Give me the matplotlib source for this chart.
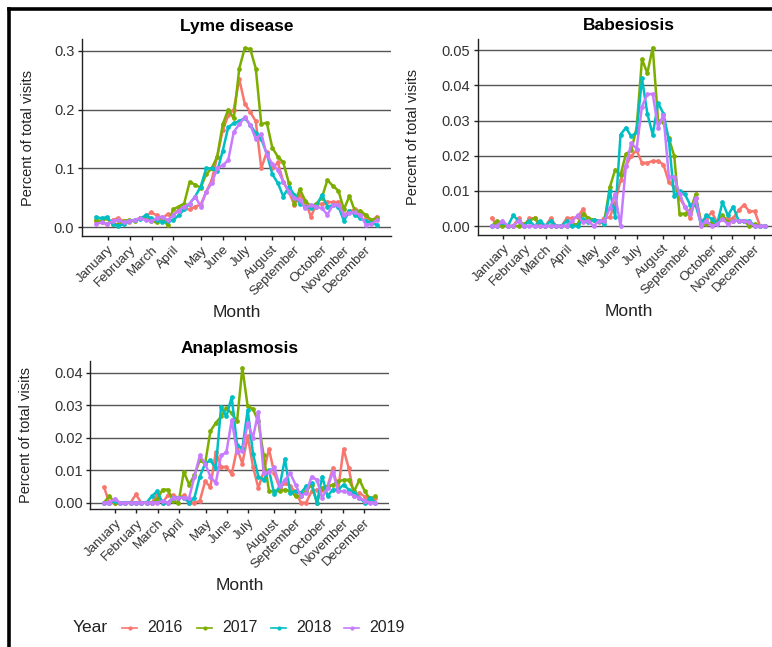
import numpy as np
import matplotlib
matplotlib.use("Agg")
import matplotlib.pyplot as plt
from matplotlib.lines import Line2D

plt.rcParams['font.family'] = ['Liberation Sans', 'DejaVu Sans']

weeks = np.arange(1, 53)
years = ['2016', '2017', '2018', '2019']
colors = ['#F8766D', '#7CAE00', '#00BFC4', '#C77CFF']

months = ['January', 'February', 'March', 'April', 'May', 'June', 'July',
          'August', 'September', 'October', 'November', 'December']
month_weeks = [3.15, 7.1, 11.1, 15.05, 20.1, 24.05, 28.0, 32.95, 36.9, 41.8, 45.85, 49.85]

# weekly percent of total visits, one list per year
lyme_2016 = [0.010, 0.008, 0.005, 0.012, 0.015, 0.010, 0.008, 0.012, 0.015, 0.018,
             0.025, 0.020, 0.015, 0.022, 0.020, 0.030, 0.032, 0.030, 0.035, 0.038,
             0.060, 0.080, 0.120, 0.165, 0.190, 0.200, 0.252, 0.210, 0.196, 0.180,
             0.100, 0.128, 0.100, 0.110, 0.077, 0.060, 0.038, 0.055, 0.043, 0.018,
             0.038, 0.040, 0.043, 0.042, 0.043, 0.021, 0.027, 0.030, 0.024, 0.018,
             0.010, 0.018]
lyme_2017 = [0.012, 0.010, 0.015, 0.005, 0.005, 0.010, 0.012, 0.010, 0.015, 0.018,
             0.010, 0.008, 0.015, 0.003, 0.030, 0.035, 0.040, 0.077, 0.072, 0.067,
             0.090, 0.100, 0.120, 0.175, 0.200, 0.185, 0.270, 0.305, 0.303, 0.270,
             0.175, 0.178, 0.135, 0.120, 0.110, 0.075, 0.040, 0.064, 0.045, 0.035,
             0.040, 0.050, 0.080, 0.070, 0.062, 0.030, 0.053, 0.027, 0.028, 0.020,
             0.012, 0.015]
lyme_2018 = [0.017, 0.015, 0.017, 0.005, 0.002, 0.005, 0.010, 0.012, 0.014, 0.020,
             0.015, 0.012, 0.008, 0.010, 0.012, 0.020, 0.030, 0.040, 0.052, 0.069,
             0.100, 0.100, 0.095, 0.130, 0.170, 0.177, 0.180, 0.186, 0.174, 0.160,
             0.150, 0.125, 0.090, 0.075, 0.052, 0.069, 0.055, 0.040, 0.035, 0.032,
             0.035, 0.055, 0.035, 0.037, 0.035, 0.011, 0.027, 0.021, 0.015, 0.010,
             0.007, 0.004]
lyme_2019 = [0.005, 0.008, 0.005, 0.010, 0.012, 0.008, 0.010, 0.012, 0.015, 0.012,
             0.010, 0.015, 0.018, 0.012, 0.020, 0.028, 0.035, 0.040, 0.052, 0.035,
             0.060, 0.075, 0.100, 0.105, 0.114, 0.162, 0.175, 0.187, 0.174, 0.150,
             0.159, 0.122, 0.108, 0.097, 0.077, 0.060, 0.049, 0.046, 0.032, 0.038,
             0.035, 0.032, 0.021, 0.038, 0.038, 0.021, 0.024, 0.025, 0.020, 0.004,
             0.005, 0.012]

babe_2016 = [0.0023, 0.0, 0.0005, 0.0, 0.0, 0.0022, 0.0, 0.0022, 0.0022, 0.0,
             0.0, 0.0022, 0.0, 0.0, 0.0022, 0.0022, 0.0025, 0.0048, 0.0015, 0.0018,
             0.0012, 0.0022, 0.0025, 0.0065, 0.013, 0.017, 0.020, 0.0215, 0.018, 0.018,
             0.0185, 0.0185, 0.0175, 0.0125, 0.011, 0.008, 0.0055, 0.0022, 0.008, 0.0015,
             0.002, 0.004, 0.001, 0.0025, 0.002, 0.0022, 0.0045, 0.006, 0.0042, 0.0042,
             0.0, 0.0]
babe_2017 = [0.0, 0.0015, 0.0, 0.0, 0.0, 0.0, 0.0005, 0.0015, 0.0022, 0.0005,
             0.0, 0.0, 0.0, 0.0, 0.0, 0.0005, 0.0005, 0.0035, 0.0022, 0.0018,
             0.0015, 0.0015, 0.011, 0.016, 0.0145, 0.0205, 0.0215, 0.028, 0.0475, 0.0435,
             0.0508, 0.030, 0.0295, 0.025, 0.020, 0.0035, 0.0035, 0.0045, 0.009, 0.0005,
             0.0005, 0.001, 0.001, 0.003, 0.001, 0.0015, 0.0015, 0.0015, 0.0, 0.0005,
             0.0, 0.0]
babe_2018 = [0.0, 0.0, 0.0012, 0.0, 0.003, 0.0015, 0.0, 0.0015, 0.0, 0.0015,
             0.0, 0.0015, 0.0, 0.0, 0.0015, 0.0, 0.0, 0.002, 0.0012, 0.0018,
             0.0015, 0.0005, 0.010, 0.0027, 0.026, 0.028, 0.0255, 0.0267, 0.042, 0.032,
             0.026, 0.035, 0.032, 0.0245, 0.0085, 0.010, 0.009, 0.006, 0.006, 0.0005,
             0.003, 0.002, 0.0005, 0.0068, 0.003, 0.0055, 0.0015, 0.0015, 0.0015, 0.0,
             0.0, 0.0]
babe_2019 = [0.0, 0.0, 0.0015, 0.0, 0.0, 0.0015, 0.0, 0.0, 0.0, 0.0,
             0.0, 0.0, 0.0, 0.0, 0.0, 0.0015, 0.003, 0.001, 0.0015, 0.0,
             0.0015, 0.0015, 0.005, 0.009, 0.0, 0.017, 0.0236, 0.022, 0.034, 0.0375,
             0.0376, 0.028, 0.0317, 0.014, 0.014, 0.009, 0.0055, 0.0035, 0.008, 0.0,
             0.0015, 0.0, 0.0005, 0.002, 0.0005, 0.0015, 0.0015, 0.0015, 0.001, 0.0,
             0.0, 0.0]

ana_2016 = [0.0048, 0.0, 0.0, 0.0, 0.0, 0.0, 0.0025, 0.0, 0.0, 0.0,
            0.0025, 0.0, 0.0022, 0.0022, 0.0015, 0.0022, 0.0, 0.0, 0.0005, 0.0065,
            0.0048, 0.0156, 0.011, 0.011, 0.0087, 0.0167, 0.012, 0.0205, 0.011, 0.0045,
            0.0095, 0.0165, 0.009, 0.0045, 0.006, 0.005, 0.0033, 0.0, 0.0, 0.0035,
            0.004, 0.004, 0.005, 0.0105, 0.004, 0.0165, 0.0105, 0.002, 0.003, 0.0018,
            0.0015, 0.0015]
ana_2017 = [0.0, 0.002, 0.0, 0.0, 0.0, 0.0, 0.0, 0.0, 0.0, 0.0,
            0.001, 0.004, 0.004, 0.0005, 0.0, 0.0095, 0.0055, 0.0085, 0.013, 0.012,
            0.022, 0.0245, 0.0265, 0.029, 0.0275, 0.025, 0.0415, 0.0296, 0.0288, 0.025,
            0.0145, 0.0035, 0.0035, 0.0035, 0.004, 0.0035, 0.002, 0.002, 0.0035, 0.0055,
            0.0, 0.0045, 0.005, 0.0055, 0.0065, 0.007, 0.007, 0.0035, 0.007, 0.0035,
            0.001, 0.002]
ana_2018 = [0.0, 0.0, 0.0005, 0.0, 0.0, 0.0, 0.0, 0.0, 0.0, 0.002,
            0.0035, 0.0, 0.0, 0.0015, 0.0015, 0.0015, 0.0, 0.0015, 0.008, 0.012,
            0.013, 0.0105, 0.0295, 0.0265, 0.0325, 0.0177, 0.0167, 0.0285, 0.015, 0.008,
            0.007, 0.010, 0.0025, 0.005, 0.0135, 0.003, 0.0035, 0.003, 0.005, 0.006,
            0.0, 0.008, 0.002, 0.004, 0.004, 0.0055, 0.004, 0.003, 0.0015, 0.0,
            0.0015, 0.0]
ana_2019 = [0.0, 0.0, 0.0012, 0.0, 0.0, 0.0, 0.0, 0.0, 0.0, 0.0,
            0.0, 0.0005, 0.0, 0.0015, 0.0015, 0.0015, 0.0015, 0.008, 0.0145, 0.012,
            0.008, 0.006, 0.0145, 0.0155, 0.0254, 0.0156, 0.016, 0.0245, 0.020, 0.028,
            0.009, 0.0095, 0.0108, 0.005, 0.007, 0.009, 0.0055, 0.002, 0.003, 0.008,
            0.007, 0.0015, 0.0045, 0.0095, 0.0035, 0.0035, 0.003, 0.002, 0.0015, 0.0005,
            0.0, 0.0]

panels = [
    ("Lyme disease", [lyme_2016, lyme_2017, lyme_2018, lyme_2019],
     [0.0, 0.1, 0.2, 0.3], "{:.1f}", [0.1062, 0.6352, 0.4003, 0.3045], -0.152, -0.386),
    ("Babesiosis", [babe_2016, babe_2017, babe_2018, babe_2019],
     [0.0, 0.01, 0.02, 0.03, 0.04, 0.05], "{:.2f}", [0.6192, 0.6369, 0.3900, 0.3034], -0.193, -0.39),
    ("Anaplasmosis", [ana_2016, ana_2017, ana_2018, ana_2019],
     [0.0, 0.01, 0.02, 0.03, 0.04], "{:.2f}", [0.1171, 0.2128, 0.3868, 0.2292], -0.192, -0.517),
]

fig = plt.figure(figsize=(7.72, 6.47), dpi=100)

for title, series, yt, fmt, rect, ylab_x, xlab_y in panels:
    ax = fig.add_axes(rect)
    for vals, c in zip(series, colors):
        ax.plot(weeks, vals, color=c, lw=1.8, marker='o', ms=2.4, mec=c, mfc=c)
    ax.set_xlim(1 - 0.05 * 51, 52 + 0.05 * 51)
    ymax = max(max(v) for v in series)
    ax.set_ylim(-0.05 * ymax, ymax * 1.05)
    ax.set_yticks(yt)
    ax.set_yticklabels([fmt.format(v) for v in yt])
    ax.set_xticks(month_weeks)
    ax.set_xticklabels(months, rotation=45, ha='right', va='top',
                       rotation_mode='anchor')
    ax.grid(axis='y', color='#555555', lw=1.0)
    ax.set_axisbelow(True)
    for s in ['top', 'right']:
        ax.spines[s].set_visible(False)
    for s in ['left', 'bottom']:
        ax.spines[s].set_color('#222222')
        ax.spines[s].set_linewidth(1.0)
    ax.tick_params(axis='both', colors='#222222', length=3, width=1.0,
                   labelsize=9.5, labelcolor='#333333', pad=2.5)
    ax.tick_params(axis='y', labelsize=10.5)
    ax.set_title(title, fontsize=12.5, fontweight='bold', pad=6)
    ax.set_ylabel("Percent of total visits", fontsize=10.5, color='#222222')
    ax.yaxis.set_label_coords(ylab_x, 0.5)
    ax.set_xlabel("Month", fontsize=12.5, color='#222222', va='center')
    ax.xaxis.set_label_coords(0.5, xlab_y)

# legend row along the bottom
ly = 1 - 628 / 647
fig.text(73 / 772, ly, "Year", fontsize=12.5, va='center', ha='left', color='#222222')
key_x = [122, 197, 271, 344]
for kx, yr, c in zip(key_x, years, colors):
    fig.add_artist(Line2D([kx / 772, (kx + 15) / 772], [ly, ly], color=c, lw=1.2,
                          transform=fig.transFigure))
    fig.add_artist(Line2D([(kx + 7.5) / 772], [ly], color=c, marker='o', ms=2.0,
                          transform=fig.transFigure))
    fig.text((kx + 25) / 772, ly, yr, fontsize=11.5, va='center', ha='left', color='#222222')

# outer frame on the left and top edges
fig.add_artist(Line2D([9 / 772, 9 / 772], [0, 1 - 9 / 647], color='black', lw=2.6,
                      transform=fig.transFigure, solid_capstyle='projecting'))
fig.add_artist(Line2D([9 / 772, 1], [1 - 9 / 647, 1 - 9 / 647], color='black', lw=2.6,
                      transform=fig.transFigure, solid_capstyle='projecting'))

fig.savefig("out.png", dpi=100)
